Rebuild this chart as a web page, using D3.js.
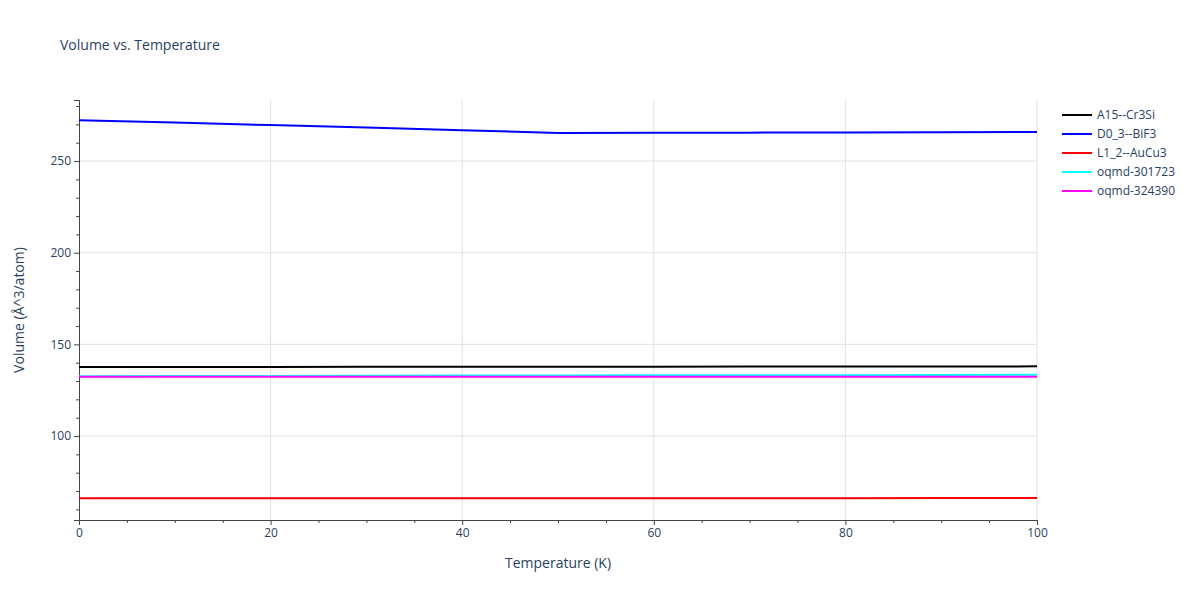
<!DOCTYPE html>
<html><head><meta charset="utf-8">
<script src="https://cdn.jsdelivr.net/npm/d3@7"></script>
<style>body{margin:0;background:#fff;font-family:"Open Sans",sans-serif}</style>
</head><body><div id="chart"></div>
<script>
const temps = [0, 10, 20, 30, 40, 50, 60, 70, 80, 90, 100];
const seriesNames = ["A15--Cr3Si", "D0_3--BiF3", "L1_2--AuCu3", "oqmd-301723", "oqmd-324390"];
const seriesColors = ["black", "blue", "red", "cyan", "magenta"];
const a15 = [137.7, 137.7, 137.7, 137.8, 137.8, 137.8, 137.8, 137.9, 137.9, 137.9, 138.0];
const d03 = [272.3, 271.0, 269.6, 268.3, 266.8, 265.3, 265.4, 265.5, 265.6, 265.7, 265.8];
const l12 = [66.0, 66.0, 66.0, 66.0, 66.0, 66.1, 66.1, 66.1, 66.1, 66.2, 66.2];
const oq301723 = [132.6, 132.7, 132.8, 132.9, 133.0, 133.0, 133.1, 133.2, 133.2, 133.3, 133.4];
const oq324390 = [132.4, 132.4, 132.4, 132.4, 132.4, 132.4, 132.4, 132.4, 132.4, 132.4, 132.4];
const allSeries = [a15, d03, l12, oq301723, oq324390];
const xTicks = [0, 20, 40, 60, 80, 100];
const yTicks = [100, 150, 200, 250];

const W = 1200, H = 600, m = {l: 79, r: 163, t: 100, b: 80};
const svg = d3.select("#chart").append("svg").attr("width", W).attr("height", H);
const x = d3.scaleLinear().domain([0, 100]).range([m.l, W - m.r]);
const y = d3.scaleLinear().domain([54.2, 283.3]).range([H - m.b, m.t]);
const grid = "#e1e1e1", txt = "#2a3f5f";

svg.append("g").selectAll("line").data(xTicks.slice(1)).join("line")
  .attr("x1", d => x(d)).attr("x2", d => x(d)).attr("y1", m.t).attr("y2", H - m.b).attr("stroke", grid);
svg.append("g").selectAll("line").data(yTicks).join("line")
  .attr("x1", m.l).attr("x2", W - m.r).attr("y1", d => y(d)).attr("y2", d => y(d)).attr("stroke", grid);

const xa = svg.append("g").attr("transform", `translate(0,${H - m.b})`)
  .call(d3.axisBottom(x).tickValues(d3.range(0, 101, 5)).tickSize(5).tickFormat(d => xTicks.includes(d) ? d : ""));
xa.selectAll(".tick line").attr("y2", d => d % 20 ? 3 : 5);
const ya = svg.append("g").attr("transform", `translate(${m.l},0)`)
  .call(d3.axisLeft(y).tickValues(d3.range(60, 281, 10)).tickSize(5).tickFormat(d => yTicks.includes(d) ? d : ""));
ya.selectAll(".tick line").attr("x2", d => d % 50 ? -3 : -5);
[xa, ya].forEach(a => {
  a.select(".domain").attr("stroke", "#444");
  a.selectAll(".tick line").attr("stroke", "#444");
  a.selectAll("text").attr("fill", txt).style("font-size", "12px").style("font-family", "Open Sans");
});

const line = d3.line().x((d, i) => x(temps[i])).y(d => y(d));
allSeries.forEach((s, k) => svg.append("path").datum(s).attr("d", line)
  .attr("fill", "none").attr("stroke", seriesColors[k]).attr("stroke-width", 2));

svg.append("text").attr("x", 60).attr("y", 50).text("Volume vs. Temperature")
  .attr("fill", txt).style("font-size", "14px");
svg.append("text").attr("x", x(50)).attr("y", 568).attr("text-anchor", "middle")
  .text("Temperature (K)").attr("fill", txt).style("font-size", "14px");
svg.append("text").attr("transform", `translate(24,${y(168.75)}) rotate(-90)`).attr("text-anchor", "middle")
  .text("Volume (Å^3/atom)").attr("fill", txt).style("font-size", "14px");

const lg = svg.append("g").attr("transform", "translate(1062,115)");
seriesNames.forEach((n, k) => {
  const g = lg.append("g").attr("transform", `translate(0,${k * 19})`);
  g.append("line").attr("x1", 0).attr("x2", 30).attr("stroke", seriesColors[k]).attr("stroke-width", 2);
  g.append("text").attr("x", 35).attr("y", 4).text(n).attr("fill", txt).style("font-size", "12px");
});
</script></body></html>
